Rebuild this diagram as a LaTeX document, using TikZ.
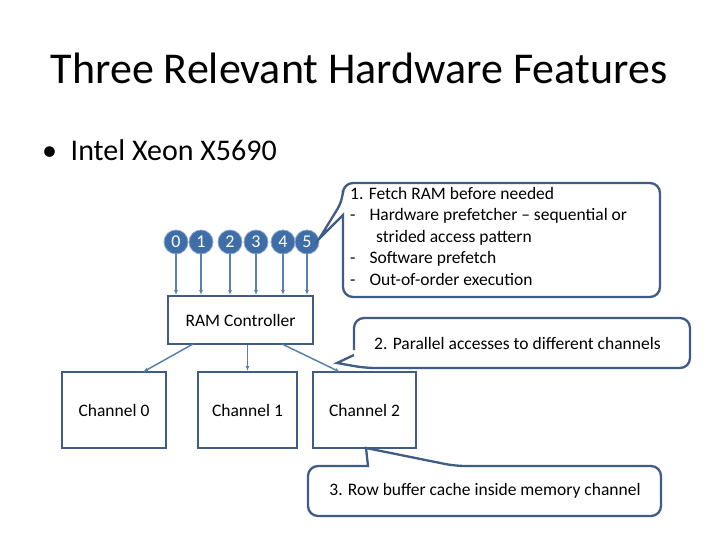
\documentclass[tikz,border=0pt]{standalone}
\usepackage{fontspec}
\setmainfont{Carlito}
\usetikzlibrary{arrows.meta}
\begin{document}
\begin{tikzpicture}[x=1pt,y=-1pt,
  bx/.style={draw=boxc,line width=2pt,minimum width=#1,minimum height=48pt,font=\fontsize{17.5}{20}\selectfont,inner sep=0pt},
  core/.style={circle,fill=corec,draw=corec!60,line width=0.8pt,minimum size=24pt,inner sep=0pt,text=white,font=\fontsize{18}{20}\selectfont},
  arr/.style={draw=arrc,line width=1.5pt,-{Latex[length=5pt,width=4pt]}},
  call/.style={draw=boxc,line width=2.3pt,rounded corners=10pt},
  ctext/.style={font=\fontsize{17.5}{21.5}\selectfont,align=left,inner sep=0pt,anchor=north west}]
\definecolor{boxc}{HTML}{3E5C85}
\definecolor{arrc}{HTML}{5A80B0}
\definecolor{corec}{HTML}{3F6DA8}
\useasboundingbox (0,0) rectangle (720,540);
\node (title) at (359,68) {\fontsize{44}{48}\selectfont Three Relevant Hardware Features};
\node[anchor=west,inner sep=0pt] (bul) at (42,150) {\fontsize{30}{33}\selectfont \textbullet\ \ Intel Xeon X5690};
\foreach \n/\x in {0/176,1/201,2/230,3/256,4/283,5/307} \node[core] (c\n) at (\x,242) {\n};
\node[bx=145pt] (ram) at (240.5,320) {RAM Controller};
\node[bx=104pt,minimum height=76pt] (ch0) at (114,410) {Channel 0};
\node[bx=99pt,minimum height=76pt] (ch1) at (247.5,410) {Channel 1};
\node[bx=103pt,minimum height=76pt] (ch2) at (364.5,410) {Channel 2};
\foreach \n in {0,...,5} \draw[arr] (c\n) -- (c\n |- ram.north);
\coordinate (a0) at (193,344); \coordinate (e0) at (143,372);
\coordinate (a2) at (282,344); \coordinate (e2) at (340,372);
\draw[arr] (a0) -- (e0);
\draw[arr] (ram.south -| ch1) -- (ch1.north);
\draw[arr] (a2) -- (e2);
% callout 1
\coordinate (t1) at (319,239);
\draw[call] (343,215) -- (343,297) -- (660,297) -- (660,183) -- (343,183) -- (343,200) [sharp corners] -- (t1) -- cycle;
\node[ctext] (k1) at (350,187) {1. Fetch RAM before needed\\
-\hspace{14pt}Hardware prefetcher -- sequential or\\
\hspace{26pt}strided access pattern\\
-\hspace{14pt}Software prefetch\\
-\hspace{14pt}Out-of-order execution};
% callout 2
\coordinate (t2) at (337,363);
\draw[call] (354,350) -- (354,318) -- (690,318) -- (690,368) -- (365,368) [sharp corners] -- (t2) -- (354,355);
\node[anchor=west,inner sep=0pt,font=\fontsize{17.5}{20}\selectfont] (k2) at (374,343) {2. Parallel accesses to different channels};
% callout 3
\coordinate (t3) at (366,448);
\draw[call] (368,466) -- (308,466) -- (308,516) -- (661,516) -- (661,466) -- (455,466) [sharp corners] -- (t3) -- cycle;
\node[font=\fontsize{17.5}{20}\selectfont] (k3) at (485,491) {3. Row buffer cache inside memory channel};
\end{tikzpicture}
\end{document}
